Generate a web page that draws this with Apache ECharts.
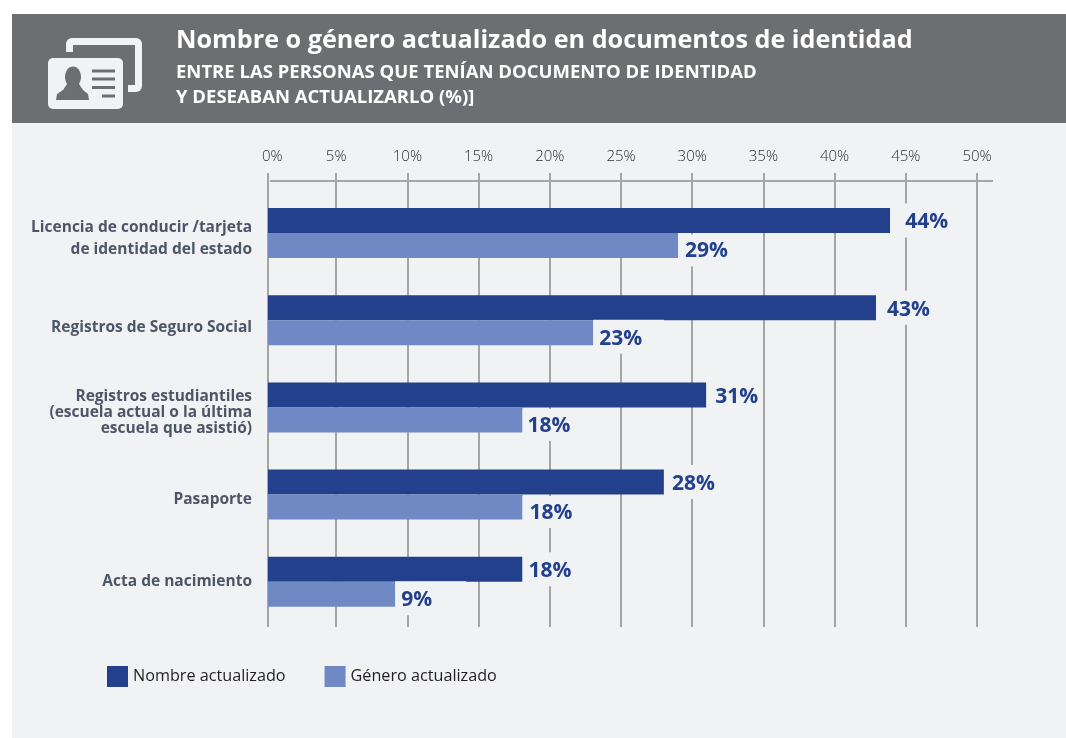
<!DOCTYPE html>
<html>
<head>
<meta charset="utf-8">
<style>
  html, body { margin: 0; padding: 0; background: #fff; }
  #chart { width: 1066px; height: 738px; }
</style>
<script src="https://cdn.jsdelivr.net/npm/echarts@6/dist/echarts.min.js"></script>
</head>
<body>
<div id="chart"></div>
<script>
const categories = [
  'Licencia de conducir /tarjeta\nde identidad del estado',
  'Registros de Seguro Social',
  'Registros estudiantiles\n(escuela actual o la última\nescuela que asistió)',
  'Pasaporte',
  'Acta de nacimiento'
]
const nombreValues = [44, 43, 31, 28, 18]
const generoValues = [29, 23, 18, 18, 9]
const seriesNames = ['Nombre actualizado', 'Género actualizado']
const titleText = 'Nombre o género actualizado en documentos de identidad'
const subtitleLines = ['ENTRE LAS PERSONAS QUE TENÍAN DOCUMENTO DE IDENTIDAD', 'Y DESEABAN ACTUALIZARLO (%)]']

const BG = '#f0f2f4'
const HEADER = '#6d6e71'
const DARK = '#22408c'
const LIGHT = '#7088c4'
const GRID = '#a5a6a4'
const FONT = '"Open Sans", sans-serif'

// gap between bar end and its label differs per bar in the original
const nombreGaps = [15, 11, 9, 8, 6]
const generoGaps = [7, 6, 5, 7, 6]
// label box hides the gridlines behind it; two of them also nick the bar above
const generoBoxes = [50, 71, 50, 50, 71]
const generoNicks = [0, 1, 0, 0, 1]
// category labels do not sit quite centred on their band
const categoryLineHeights = [22, 16, 16, 16, 16]
const categoryPadTop = [-16, -1, -19, -3, -8]

const chart = echarts.init(document.getElementById('chart'))

const barData = (values, gaps, boxes, offsetY, nicks) => values.map((v, i) => {
  // box top moves down a little where it must not bite into the bar above
  const inset = nicks && !nicks[i] ? 2 : 0
  return {
    value: v,
    label: {
      padding: [4 - inset, 0, 0, gaps[i]],
      width: boxes[i] - gaps[i],
      offset: [0, offsetY - 17 + inset]
    }
  }
})

const barLabel = {
  show: true,
  position: 'right',
  formatter: '{c}%',
  color: DARK,
  fontFamily: FONT,
  fontWeight: 700,
  fontSize: 21,
  backgroundColor: BG,
  verticalAlign: 'top',
  height: 30,
  lineHeight: 30,
  distance: 0
}

const rect = (x, y, width, height, fill, z, r) => ({
  type: 'rect', silent: true, z, shape: { x, y, width, height, r: r || 0 }, style: { fill }
})

const option = {
  animation: false,
  textStyle: { fontFamily: FONT },
  grid: [
    { left: 268, top: 189.4, width: 707, height: 436 },
    { left: 265, top: 173, width: 712, height: 454 }
  ],
  legend: {
    left: 102,
    top: 661,
    itemWidth: 21,
    itemHeight: 21,
    itemGap: 39,
    icon: 'rect',
    data: seriesNames,
    textStyle: { fontFamily: FONT, fontSize: 16.2, color: '#231f20' }
  },
  xAxis: [
    {
      gridIndex: 0, type: 'value', min: 0, max: 50,
      axisLine: { show: false }, axisTick: { show: false },
      axisLabel: { show: false }, splitLine: { show: false }
    },
    {
      gridIndex: 1, type: 'value', position: 'top', min: 0, max: 50, interval: 5,
      axisLine: { show: false }, axisTick: { show: false },
      axisLabel: {
        formatter: '{value}%', showMinLabel: false, margin: 9,
        color: '#2f2f31', fontFamily: FONT, fontWeight: 300, fontSize: 15
      },
      splitLine: { showMinLine: false, lineStyle: { color: GRID, width: 2 } }
    }
  ],
  yAxis: [
    {
      gridIndex: 0, type: 'category', inverse: true,
      data: categories.map((c, i) => ({
        value: c,
        textStyle: {
          lineHeight: categoryLineHeights[i],
          verticalAlign: 'top',
          padding: [categoryPadTop[i], 0, 0, 0]
        }
      })),
      axisLine: { show: false }, axisTick: { show: false },
      axisLabel: {
        margin: 16, align: 'right', color: '#4d5666',
        fontFamily: FONT, fontWeight: 700, fontSize: 15.5
      }
    },
    {
      gridIndex: 1, type: 'category', data: [''], show: false
    }
  ],
  series: [
    {
      name: seriesNames[0], type: 'bar', xAxisIndex: 0, yAxisIndex: 0,
      data: barData(nombreValues, nombreGaps, nombreGaps.map(() => 50), 0), barWidth: 25, barGap: 0, z: 3,
      itemStyle: { color: DARK }, label: barLabel
    },
    {
      name: seriesNames[1], type: 'bar', xAxisIndex: 0, yAxisIndex: 0,
      data: barData(generoValues, generoGaps, generoBoxes, 4, generoNicks), barWidth: 25, barGap: 0, z: 4,
      itemStyle: { color: LIGHT }, label: barLabel
    }
  ],
  graphic: [
    // panel and header band
    rect(12, 14, 1054, 724, BG, -10),
    rect(12, 14, 1054, 109, HEADER, -9),
    // id card icon: back card outline
    rect(66, 38, 76, 54, BG, 1, 6),
    rect(73, 45, 62, 40, HEADER, 2),
    rect(42, 52, 86, 60, HEADER, 2),
    // front card
    rect(48, 58, 75, 51, BG, 3, 5),
    // person
    { type: 'ellipse', silent: true, z: 4, shape: { cx: 73, cy: 77, rx: 8, ry: 10.5 }, style: { fill: HEADER } },
    {
      type: 'polygon', silent: true, z: 4,
      shape: { points: [[56, 100], [57, 94], [63, 90], [67, 84], [79, 84], [83, 90], [88, 94], [89, 100]] },
      style: { fill: HEADER }
    },
    rect(92, 69.5, 23, 3, HEADER, 4),
    rect(92, 77.5, 23, 3, HEADER, 4),
    rect(92, 86, 23, 3, HEADER, 4),
    rect(102, 94.5, 13, 3, HEADER, 4),
    // header texts
    { type: 'text', silent: true, z: 2, x: 176, y: 28, style: { text: titleText, fill: '#fff', font: '700 25.2px ' + FONT } },
    { type: 'text', silent: true, z: 2, x: 176, y: 63, style: { text: subtitleLines[0], fill: '#fff', font: '700 18.5px ' + FONT } },
    { type: 'text', silent: true, z: 2, x: 176, y: 88, style: { text: subtitleLines[1], fill: '#fff', font: '700 18.5px ' + FONT } },
    // baseline at 0, top rule and the 0% tick label
    { type: 'line', silent: true, z: 1, shape: { x1: 268, y1: 173, x2: 268, y2: 627 }, style: { stroke: GRID, lineWidth: 2 } },
    { type: 'line', silent: true, z: 1, shape: { x1: 270, y1: 181, x2: 993, y2: 181 }, style: { stroke: GRID, lineWidth: 2 } },
    { type: 'text', silent: true, z: 2, x: 262, y: 149, style: { text: '0%', fill: '#2f2f31', font: '300 15px ' + FONT } }
  ]
}

chart.setOption(option)
</script>
</body>
</html>
